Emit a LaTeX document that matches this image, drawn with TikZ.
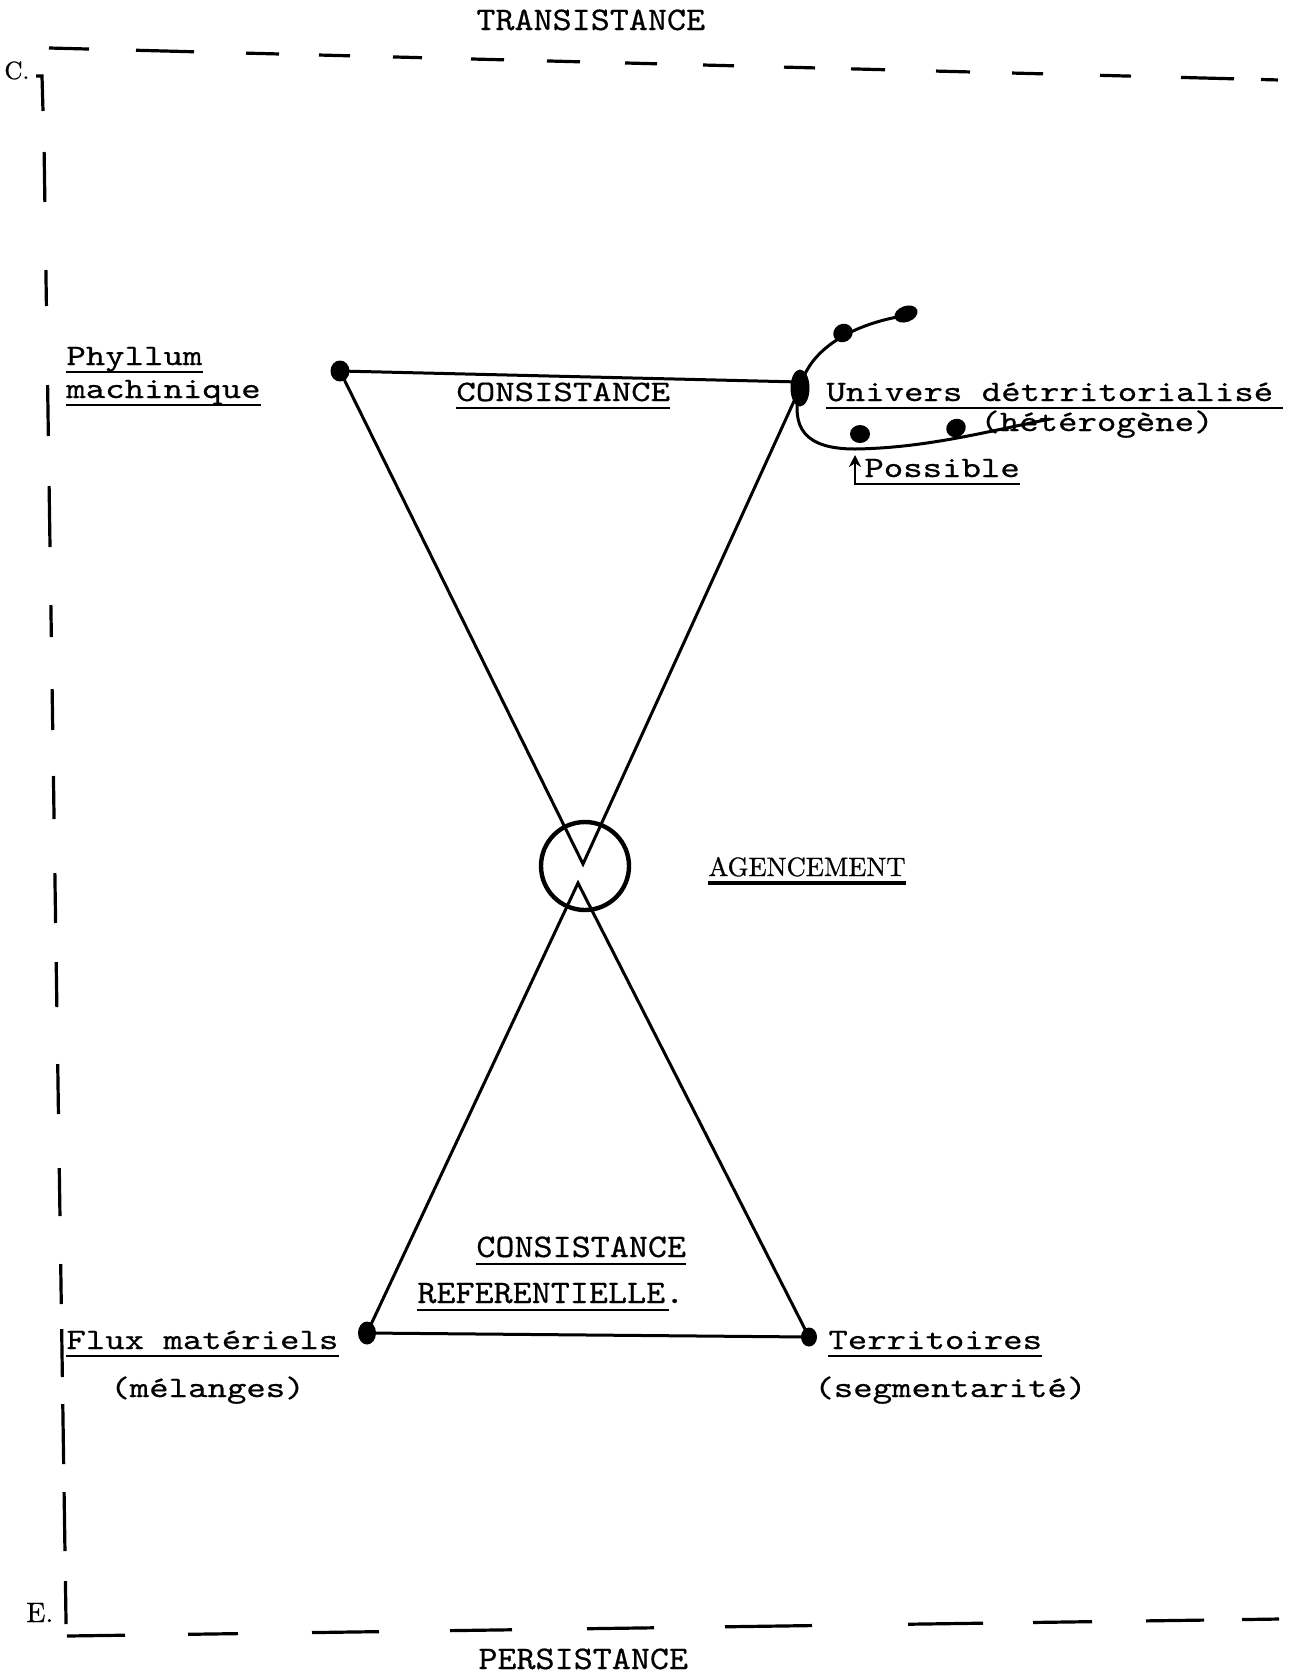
\documentclass[tikz,border=0pt]{standalone}
\usepackage{fontspec}
\usetikzlibrary{shapes.geometric,arrows.meta}
\newfontfamily\twbody{lmmono10-regular}[Extension=.otf,FakeStretch=1.25,FakeBold=0.6]
\newfontfamily\twcaps{lmmono10-regular}[Extension=.otf,FakeStretch=1.1,FakeBold=0.5]
\newfontfamily\romheavy{lmroman10-regular}[Extension=.otf,FakeBold=0.8]
\newcommand\bodyfnt{\twbody\fontsize{14.8pt}{17pt}\selectfont}
\newcommand\capsfnt{\twcaps\fontsize{16.5pt}{19pt}\selectfont}
\newcommand\romfnt{\romheavy\fontsize{13.3pt}{16pt}\selectfont}
\begin{document}
\begin{tikzpicture}[x=0.5pt,y=-0.5pt,
  frame/.style={line width=1.6pt},
  tri/.style={line width=1.5pt},
  uline/.style={line width=1.1pt},
  lbl/.style={anchor=base west, inner sep=0pt, font=\bodyfnt},
  ul/.style={append after command={([yshift=-3.5pt]\tikzlastnode.base west) edge[uline] ([yshift=-3.5pt]\tikzlastnode.base east)}},
  caps/.style={anchor=base west, inner sep=0pt, font=\capsfnt},
  dot/.style={ellipse, fill, inner sep=0pt},
]
\fill[white] (0,0) rectangle (1290,1676);
\useasboundingbox (0,0) rectangle (1290,1676);

% frame: top dashed line
\foreach \a/\b in {49/89, 136/194, 246/279, 319/350, 393/422, 471/504, 547/580, 625/657, 703/734, 784/815, 851/885, 936/970, 1012/1043, 1100/1131, 1181/1234, 1261/1278}
  \draw[frame] (\a,{48+0.026*(\a-49)}) -- (\b,{48+0.026*(\b-49)});
% left dashed line
\draw[frame] (36,76) -- (42,76) -- (43,111);
\foreach \a/\b in {152/202, 270/306, 385/436, 486/547, 605/637, 689/730, 776/819, 873/923, 962/1007, 1064/1114, 1168/1216, 1264/1304, 1329/1377, 1404/1464, 1492/1551, 1581/1624}
  \draw[frame] ({43+0.0149*(\a-76)},\a) -- ({43+0.0149*(\b-76)},\b);
% bottom dashed line
\foreach \a/\b in {67/125, 188/238, 312/379, 450/512, 587/654, 725/812, 908/983, 1033/1092, 1146/1204, 1242/1279}
  \draw[frame] (\a,{1636-0.014*(\a-67)}) -- (\b,{1636-0.014*(\b-67)});

% axis labels
\node[caps] (trans) at (476,30) {TRANSISTANCE};
\node[caps] (pers) at (478,1669) {PERSISTANCE};
\node[anchor=base west, inner sep=0pt, font=\romheavy\fontsize{12.5pt}{14pt}\selectfont] (cc) at (4,79) {C.};
\node[anchor=base west, inner sep=0pt, font=\romheavy\fontsize{14pt}{16pt}\selectfont] (ee) at (26,1622) {E.};

% vertices
\node[dot, minimum width=9.5pt, minimum height=10.5pt] (phy) at (340,371) {};
\node[dot, minimum width=9.5pt, minimum height=18.5pt] (uni) at (800,388) {};
\node[dot, minimum width=9pt, minimum height=11.5pt] (flx) at (367,1333) {};
\node[dot, minimum width=8pt, minimum height=9.5pt] (ter) at (809,1337) {};
\coordinate (apU) at (583,864);
\coordinate (apL) at (578,883);
\node[circle, draw, line width=2.2pt, minimum size=44pt, inner sep=0pt] (agc) at (585,866) {};

% triangles
\draw[tri] (phy.center) -- ([yshift=3pt]uni.center);
\draw[tri] (phy.center) -- (apU) -- (uni.center);
\draw[tri] (flx.center) -- (apL) -- (ter.center);
\draw[tri] (flx.center) -- (ter.center);

% curve of the universes
\draw[tri] (909,315) .. controls (860,322) and (810,345) .. (800,388)
  .. controls (790,428) and (805,449) .. (855,449)
  .. controls (925,448) and (985,432) .. (1050,419);
\node[dot, minimum width=12pt, minimum height=8pt, rotate=20] (b1) at (906,314) {};
\node[dot, minimum width=10pt, minimum height=9pt, rotate=30] (b2) at (843,333) {};
\node[dot, minimum width=10pt, minimum height=9pt] (b3) at (860,434) {};
\node[dot, minimum width=10pt, minimum height=9pt, rotate=30] (b4) at (956,428) {};

% labels
\node[lbl, ul] (phyA) at (66,365) {Phyllum};
\node[lbl, ul] (phyB) at (66,398) {machinique};
\node[lbl, ul] (cons) at (456,401) {CONSISTANCE};
\node[lbl] (univ) at (826,401) {Univers détrritorialisé};
\draw[uline] ([yshift=-3.5pt]univ.base west) -- ++(457,0);
\node[lbl] (het) at (980,431) {(hétérogène)};
\node[lbl] (poss) at (864,477) {Possible};
\coordinate (posarr) at (855,455);
\draw[uline, -{Stealth[length=6pt,width=6pt]}] ([yshift=-3.5pt]poss.base east) -| (posarr);
\node[anchor=base west, inner sep=0pt, font=\romfnt, append after command={([yshift=-3.5pt]\tikzlastnode.base west) edge[line width=1.6pt] ([yshift=-3.5pt]\tikzlastnode.base east)}] (agen) at (708,876) {AGENCEMENT};
\node[caps, ul] (consR) at (476,1257) {CONSISTANCE};
\node[caps] (ref) at (417,1303) {REFERENTIELLE.};
\draw[uline] ([yshift=-3.5pt]ref.base west) -- ++(252,0);
\node[lbl, ul] (flux) at (66,1349) {Flux matériels};
\node[lbl] (mel) at (110,1397) {(mélanges)};
\node[lbl, ul] (terr) at (828,1349) {Territoires};
\node[lbl] (seg) at (814,1397) {(segmentarité)};
\end{tikzpicture}
\end{document}
